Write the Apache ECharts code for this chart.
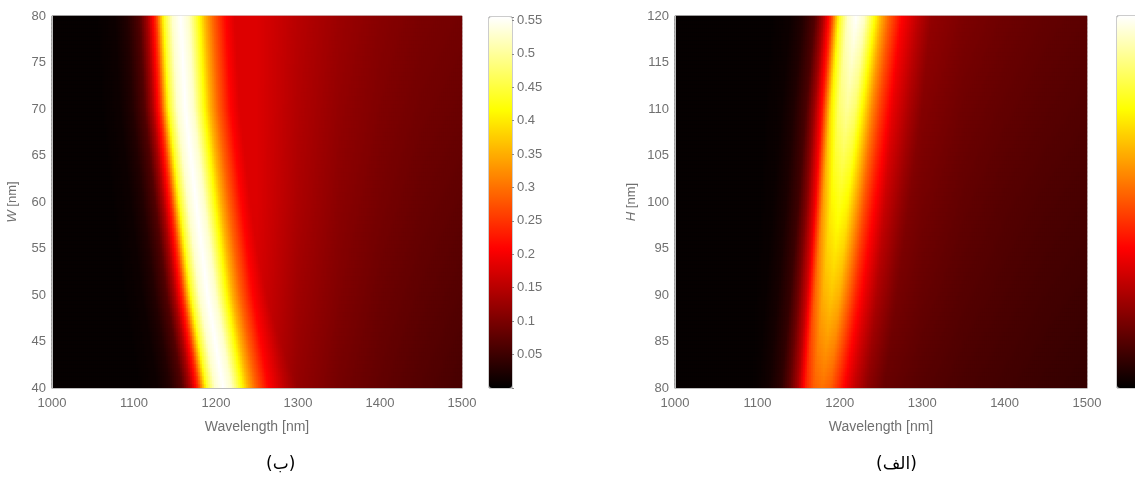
<!DOCTYPE html>
<html>
<head>
<meta charset="utf-8">
<script src="https://cdn.jsdelivr.net/npm/echarts@6/dist/echarts.min.js"></script>
<style>html,body{margin:0;padding:0;background:#fff}#c{width:1135px;height:481px}</style>
</head>
<body>
<div id="c"></div>
<script>
// ---------- data ----------
// Tick labels
const xTicks = [1000, 1100, 1200, 1300, 1400, 1500];
const cbTicks = [0.05, 0.1, 0.15, 0.2, 0.25, 0.3, 0.35, 0.4, 0.45, 0.5, 0.55];
const cbMax = 0.555;

// Panel (ب): W sweep
const W_rows = [40, 50, 60, 70, 80];
const W_peakLambda = [1209, 1190, 1176, 1163, 1157];
const W_peakValue = [0.555, 0.555, 0.555, 0.555, 0.555];
// Panel (الف): H sweep
const H_rows = [80, 90, 100, 110, 120];
const H_peakLambda = [1179, 1190, 1200, 1209, 1220];
const H_peakValue = [0.30, 0.37, 0.43, 0.50, 0.555];

// Resonance line shape (fraction of peak) vs offset from peak wavelength [nm]
const profOffset = [-130, -100, -80, -65, -50, -40, -30, -20, -10, 0, 10, 20, 30, 40, 55, 75, 100, 130];
const profRel    = [0.0, 0.01, 0.02, 0.05, 0.12, 0.25, 0.45, 0.78, 0.95, 1.0, 0.95, 0.8, 0.64, 0.52, 0.38, 0.28, 0.18, 0.0];

// Long-wavelength background level (right of the resonance)
const tailLambda = [1250, 1300, 1350, 1400, 1450, 1500];
const W_tail = [
  [0.17, 0.12, 0.095, 0.08, 0.068, 0.058],
  [0.175, 0.13, 0.105, 0.088, 0.077, 0.068],
  [0.18, 0.14, 0.113, 0.097, 0.085, 0.077],
  [0.18, 0.145, 0.12, 0.104, 0.093, 0.086],
  [0.18, 0.15, 0.127, 0.111, 0.1, 0.094]
];
const H_tail = [
  [0.085, 0.07, 0.06, 0.053, 0.047, 0.042],
  [0.105, 0.083, 0.07, 0.062, 0.055, 0.05],
  [0.125, 0.095, 0.08, 0.07, 0.063, 0.058],
  [0.145, 0.108, 0.09, 0.08, 0.072, 0.066],
  [0.165, 0.125, 0.102, 0.09, 0.081, 0.075]
];
const floorValue = 0.005;

// ---------- building the heatmap tables ----------
function interp(xs, ys, x) {
  if (x <= xs[0]) return ys[0];
  if (x >= xs[xs.length - 1]) return ys[ys.length - 1];
  for (let i = 1; i < xs.length; i++) {
    if (x <= xs[i]) {
      const t = (x - xs[i - 1]) / (xs[i] - xs[i - 1]);
      return ys[i - 1] + t * (ys[i] - ys[i - 1]);
    }
  }
}
function cells(start, end, n) {
  const out = [], step = (end - start) / n;
  for (let i = 0; i < n; i++) out.push(+(start + step * (i + 0.5)).toFixed(4));
  return out;
}

function buildTable(rowVals, peakL, peakV, tails, rowStart, rowEnd, nCols, nRows) {
  const lamCats = cells(1000, 1500, nCols);
  const rowCats = cells(rowStart, rowEnd, nRows);
  const data = [];
  rowCats.forEach((r, j) => {
    const pl = interp(rowVals, peakL, r);
    const pv = interp(rowVals, peakV, r);
    lamCats.forEach((l, i) => {
      const d = l - pl;
      let v = (d < profOffset[0] || d > profOffset[profOffset.length - 1]) ? 0 : pv * interp(profOffset, profRel, d);
      if (d > 0) {
        const perRow = tails.map(t => interp(tailLambda, t, l));
        v = Math.max(v, interp(rowVals, perRow, r));
      }
      v = Math.max(v, floorValue);
      data.push([i, j, +v.toFixed(4)]);
    });
  });
  return { lamCats, rowCats, data };
}

// plot rectangles chosen so that every cell is a whole number of pixels
const P1 = { left: 52, top: 16, width: 410, height: 372 };
const C1 = { left: 489, top: 17, width: 23, height: 371 };
const P2 = { left: 675, top: 16, width: 412, height: 372 };
const C2 = { left: 1117, top: 16, width: 23, height: 372 };

const left = buildTable(W_rows, W_peakLambda, W_peakValue, W_tail, 40, 80, 205, 93);
const right = buildTable(H_rows, H_peakLambda, H_peakValue, H_tail, 80, 120, 206, 93);

// ---------- chart ----------
const hot = ['#000000', '#550000', '#aa0000', '#ff0000', '#ff5500', '#ffaa00', '#ffff00', '#ffff80', '#ffffff'];
const FONT = 'Liberation Sans, Arial, sans-serif';
const TXT = '#707070';
const labelStyle = { color: TXT, fontSize: 13, fontFamily: FONT };

function valueX(grid) {
  return {
    type: 'value', gridIndex: grid, min: 1000, max: 1500, interval: 100, position: 'bottom',
    axisLine: { show: true, onZero: false, lineStyle: { color: '#bdbdbd' } }, axisTick: { show: false },
    splitLine: { show: false },
    axisLabel: Object.assign({ margin: 9, formatter: v => (xTicks.indexOf(v) >= 0 ? String(v) : '') }, labelStyle),
    name: 'Wavelength [nm]', nameLocation: 'middle', nameGap: 32,
    nameTextStyle: { color: TXT, fontSize: 14, fontFamily: FONT }, z: 5
  };
}
function valueY(grid, min, max, letter) {
  return {
    type: 'value', gridIndex: grid, min: min, max: max, interval: 5, position: 'left',
    axisLine: { show: true, onZero: false, lineStyle: { color: '#bdbdbd' } }, axisTick: { show: false },
    splitLine: { show: false }, axisLabel: Object.assign({ margin: 6 }, labelStyle),
    name: '{i|' + letter + '} [nm]', nameLocation: 'middle', nameGap: min === 40 ? 33 : 37,
    nameTextStyle: { color: TXT, fontSize: 13, fontFamily: FONT, rich: { i: { fontStyle: 'italic', color: TXT, fontSize: 13, fontFamily: FONT } } }, z: 5
  };
}
function cbAxis(grid, showLabels) {
  return {
    type: 'value', gridIndex: grid, min: 0, max: cbMax, interval: 0.05, position: 'right',
    axisLine: { show: false, onZero: false }, splitLine: { show: false },
    axisTick: { show: true, inside: false, length: 2, lineStyle: { color: '#888' } },
    axisLabel: Object.assign({
      show: showLabels, margin: 5,
      formatter: v => { const k = cbTicks.find(t => Math.abs(t - v) < 1e-6); return k === undefined ? '' : String(k); }
    }, labelStyle),
    z: 6
  };
}

const option = {
  animation: false,
  backgroundColor: '#ffffff',
  grid: [
    Object.assign({ show: true, borderColor: '#bdbdbd', borderWidth: 1, backgroundColor: 'transparent' }, P1),
    Object.assign({ show: true, borderColor: '#999', borderWidth: 1, backgroundColor: 'transparent' }, C1),
    Object.assign({ show: true, borderColor: '#bdbdbd', borderWidth: 1, backgroundColor: 'transparent' }, P2),
    Object.assign({ show: true, borderColor: '#999', borderWidth: 1, backgroundColor: 'transparent' }, C2)
  ],
  xAxis: [
    { type: 'category', gridIndex: 0, data: left.lamCats, show: false },
    valueX(0),
    { type: 'value', gridIndex: 1, show: false, min: 0, max: 1 },
    { type: 'category', gridIndex: 2, data: right.lamCats, show: false },
    valueX(2),
    { type: 'value', gridIndex: 3, show: false, min: 0, max: 1 }
  ],
  yAxis: [
    { type: 'category', gridIndex: 0, data: left.rowCats, show: false },
    valueY(0, 40, 80, 'W'),
    cbAxis(1, true),
    { type: 'category', gridIndex: 2, data: right.rowCats, show: false },
    valueY(2, 80, 120, 'H'),
    cbAxis(3, false)
  ],
  visualMap: [
    { type: 'continuous', seriesIndex: 0, min: 0, max: cbMax, inRange: { color: hot },
      calculable: false, show: true, left: C1.left, top: C1.top, itemWidth: C1.width, itemHeight: C1.height,
      padding: 0, text: null, showLabel: false, z: 4 },
    { type: 'continuous', seriesIndex: 1, min: 0, max: cbMax, inRange: { color: hot },
      calculable: false, show: true, left: C2.left, top: C2.top, itemWidth: C2.width, itemHeight: C2.height,
      padding: 0, text: null, showLabel: false, z: 4 }
  ],
  series: [
    { type: 'heatmap', xAxisIndex: 0, yAxisIndex: 0, data: left.data, progressive: 0, silent: true,
      itemStyle: { borderWidth: 0 }, emphasis: { disabled: true } },
    { type: 'heatmap', xAxisIndex: 3, yAxisIndex: 3, data: right.data, progressive: 0, silent: true,
      itemStyle: { borderWidth: 0 }, emphasis: { disabled: true } }
  ],
  graphic: [
    { type: 'text', left: 266, top: 456, style: { text: '(ب)', fill: '#000', font: '17px "DejaVu Sans", "Noto Sans", sans-serif' } },
    { type: 'text', left: 876, top: 456, style: { text: '(الف)', fill: '#000', font: '17px "DejaVu Sans", "Noto Sans", sans-serif' } }
  ]
};
const chart = echarts.init(document.getElementById('c'), null, { renderer: 'canvas' });
chart.setOption(option);
</script>
</body>
</html>
